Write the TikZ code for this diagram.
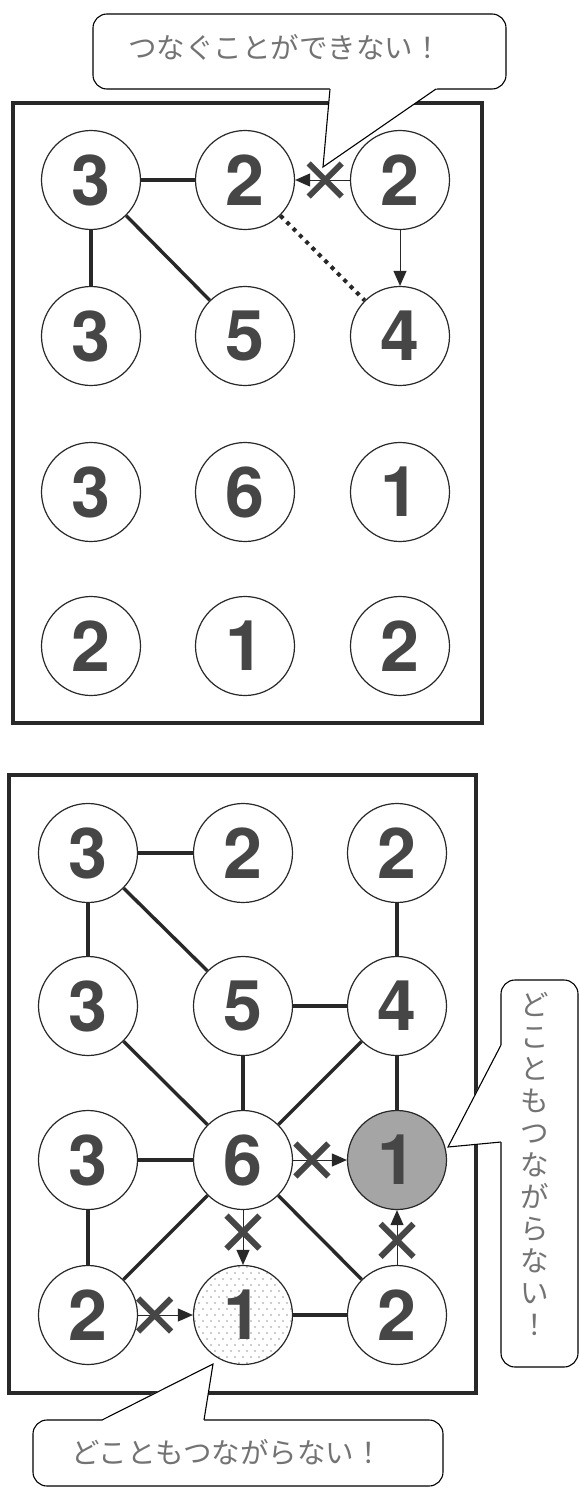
\documentclass[tikz,border=0pt]{standalone}
\usepackage{fontspec}
\usepackage{tikz}
\usetikzlibrary{arrows.meta,shapes.misc}
\setmainfont{TeX Gyre Heros}
\newfontfamily\jpfont{Noto Sans CJK JP}
\definecolor{InkDark}{RGB}{40,40,40}
\definecolor{InkGray}{RGB}{70,70,70}
\definecolor{ShadeGray}{RGB}{165,165,165}
\tikzset{
  numnode/.style={circle,draw=InkDark,fill=white,line width=1.2pt,minimum size=99pt,inner sep=0pt,font=\bfseries\fontsize{70}{70}\selectfont,text=InkGray},
  greynode/.style={numnode,fill=ShadeGray},
  dotnode/.style={numnode,path picture={
      \foreach \r in {-9,...,9}
        \foreach \c in {-7,...,7}
          {\pgfmathsetmacro\sx{8*\c+4*mod(\r+9,2)}
           \fill[InkDark] ([shift={(\sx,6*\r)}]path picture bounding box.center) circle[radius=0.7pt];}}},
  lnk/.style={InkDark,line width=3.4pt},
  dotlnk/.style={InkDark,line width=4pt,dash pattern=on 4pt off 5pt},
  tarr/.style={-{Triangle[length=15pt,width=13pt]},InkDark,line width=1pt},
  xmk/.style={cross out,draw=InkGray,line width=6pt,minimum size=27pt,inner sep=0pt},
  boxframe/.style={InkDark,line width=3.6pt},
  bubble/.style={draw=black,fill=white,line width=1.1pt,rounded corners=14pt},
  saytext/.style={font=\jpfont\fontsize{28.5}{32}\selectfont,text=black!55},
}
\begin{document}
\begin{tikzpicture}[x=1pt,y=-1pt]
  \useasboundingbox (0,0) rectangle (579,1488);
  % upper board
  \draw[boxframe] (13,103) rectangle (482,723);
  \node[numnode] (a11) at (91,180)  {3};
  \node[numnode] (a12) at (245,180) {2};
  \node[numnode] (a13) at (400,180) {2};
  \node[numnode] (a21) at (91,336)  {3};
  \node[numnode] (a22) at (245,336) {5};
  \node[numnode] (a23) at (400,336) {4};
  \node[numnode] (a31) at (91,492)  {3};
  \node[numnode] (a32) at (245,492) {6};
  \node[numnode] (a33) at (400,492) {1};
  \node[numnode] (a41) at (91,646)  {2};
  \node[numnode] (a42) at (245,646) {1};
  \node[numnode] (a43) at (400,646) {2};
  \draw[lnk] (a11)--(a12); \draw[lnk] (a11)--(a21); \draw[lnk] (a11)--(a22);
  \draw[dotlnk] (a12)--(a23);
  \draw[tarr] (a13)--(a23);
  \draw[tarr] (a13)-- node[xmk,pos=0.45] (ax) {} (a12);
  % lower board
  \draw[boxframe] (9,775) rectangle (476,1393);
  \node[numnode]  (b11) at (88,853)   {3};
  \node[numnode]  (b12) at (243,853)  {2};
  \node[numnode]  (b13) at (397,853)  {2};
  \node[numnode]  (b21) at (88,1006)  {3};
  \node[numnode]  (b22) at (243,1006) {5};
  \node[numnode]  (b23) at (397,1006) {4};
  \node[numnode]  (b31) at (88,1160)  {3};
  \node[numnode]  (b32) at (243,1160) {6};
  \node[greynode] (b33) at (397,1160) {1};
  \node[numnode]  (b41) at (88,1315)  {2};
  \node[dotnode]  (b42) at (243,1315) {1};
  \node[numnode]  (b43) at (397,1315) {2};
  \draw[lnk] (b11)--(b12); \draw[lnk] (b11)--(b21); \draw[lnk] (b11)--(b22);
  \draw[lnk] (b13)--(b23); \draw[lnk] (b22)--(b23);
  \draw[lnk] (b21)--(b32); \draw[lnk] (b22)--(b32); \draw[lnk] (b23)--(b32);
  \draw[lnk] (b23)--(b33); \draw[lnk] (b31)--(b32); \draw[lnk] (b31)--(b41);
  \draw[lnk] (b32)--(b41); \draw[lnk] (b32)--(b43); \draw[lnk] (b42)--(b43);
  \draw[tarr] (b32)-- node[xmk,pos=0.35] (bx1) {} (b33);
  \draw[tarr] (b32)-- node[xmk,pos=0.4]  (bx2) {} (b42);
  \draw[tarr] (b43)-- node[xmk,pos=0.45] (bx3) {} (b33);
  \draw[tarr] (b41)-- node[xmk,pos=0.3]  (bx4) {} (b42);
  % callouts
  \draw[bubble] (93,14) rectangle (506,89);
  \fill[white] (330,86) -- (440,86) -- (436,89) -- (323,167) -- cycle;
  \draw[line width=1.1pt] (330,89) -- (323,167) -- (436,89);
  \node[saytext] (say1) at (285,47) {つなぐことができない！};
  \draw[bubble] (501,980) rectangle (578,1367);
  \fill[white] (505,1045) -- (500,1045) -- (448,1147) -- (500,1142) -- (505,1142) -- cycle;
  \draw[line width=1.1pt] (501,1045) -- (448,1147) -- (501,1142);
  \node[saytext,align=center] (say2) at (535,1164) {ど\\こ\\と\\も\\つ\\な\\が\\ら\\な\\い\\！};
  \draw[bubble] (33,1420) rectangle (443,1486);
  \fill[white] (102,1423) -- (102,1419) -- (213,1364) -- (204,1419) -- (204,1423) -- cycle;
  \draw[line width=1.1pt] (102,1420) -- (213,1364) -- (204,1420);
  \node[saytext] (say3) at (227,1452) {どこともつながらない！};
\end{tikzpicture}
\end{document}
